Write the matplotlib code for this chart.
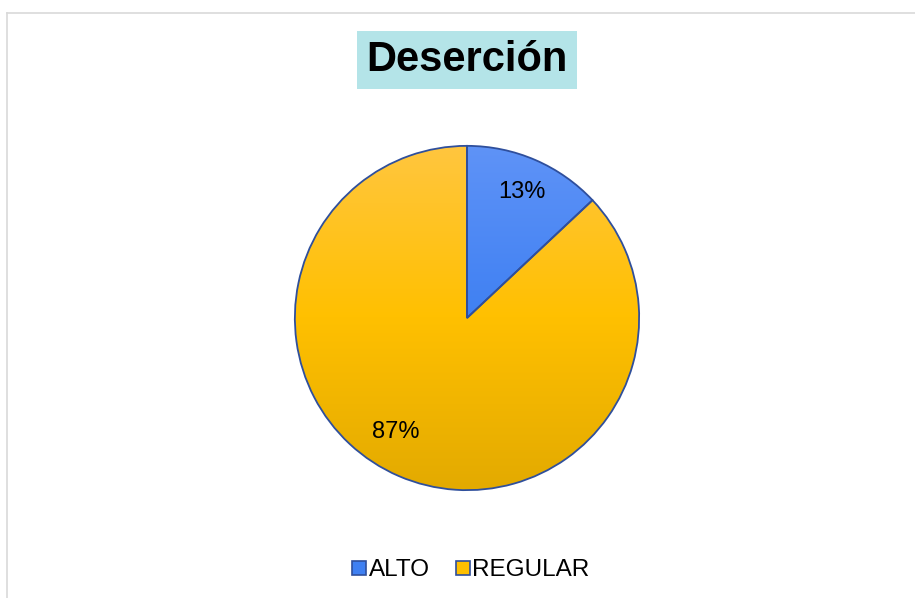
import matplotlib.pyplot as plt
import matplotlib.colors as mcolors
import numpy as np
from matplotlib.lines import Line2D

plt.rcParams['font.family'] = ['Liberation Sans', 'DejaVu Sans']

categories = ['ALTO', 'REGULAR']
values = [13, 87]
labels_pct = ['13%', '87%']
top_colors = ['#5f93f7', '#ffc63f']
mid_colors = ['#3f80f2', '#ffc000']
bottom_colors = ['#2a6be0', '#e3aa00']
legend_colors = ['#3f80f2', '#ffc000']

W, H = 915, 598
fig = plt.figure(figsize=(W / 100, H / 100), dpi=100)

# light gray chart frame
fig.add_artist(Line2D([7 / W, 7 / W], [0, 1 - 13 / H], color='#d9d9d9', lw=1.2))
fig.add_artist(Line2D([7 / W, 1], [1 - 13 / H, 1 - 13 / H], color='#d9d9d9', lw=1.2))

cx, cy, r = 467, 318, 173
ax = fig.add_axes([(cx - r) / W, (H - cy - r) / H, 2 * r / W, 2 * r / H])

wedges, _ = ax.pie(values, startangle=90, counterclock=False, radius=1,
                   colors=mid_colors,
                   wedgeprops=dict(edgecolor='#2f4f9c', linewidth=1.3))
ax.axis('off')

# vertical gradient fill clipped to each wedge
t = np.linspace(0, 1, 256)
for w, c0, c1, c2 in zip(wedges, top_colors, mid_colors, bottom_colors):
    cmap = mcolors.LinearSegmentedColormap.from_list('g', [c0, c1, c2])
    img = ax.imshow(t[:, None], cmap=cmap, extent=[-1, 1, -1, 1],
                    aspect='auto', origin='upper', zorder=w.get_zorder() - 0.1)
    img.set_clip_path(w)
    w.set_facecolor('none')
ax.set_xlim(-1.005, 1.005)
ax.set_ylim(-1.005, 1.005)

# percentage labels
theta = 90
for v, lab in zip(values, labels_pct):
    ang = np.deg2rad(theta - v * 3.6 / 2)
    d = 0.8
    if v > 50:
        ang = np.deg2rad(238)
        d = 0.78
    ax.text(d * np.cos(ang), d * np.sin(ang), lab, ha='center', va='center',
            fontsize=17, color='black')
    theta -= v * 3.6

fig.text(467 / W, 1 - 60 / H, 'Deserción', ha='center', va='center',
         fontsize=30, fontweight='bold', color='black',
         bbox=dict(boxstyle='square,pad=0.22', facecolor='#b4e4e8', edgecolor='none'))

handles = [Line2D([], [], marker='s', linestyle='none', markersize=10,
                  markerfacecolor=c, markeredgecolor='#2f4f9c', markeredgewidth=1.2)
           for c in legend_colors]
fig.legend(handles, categories, loc='center', bbox_to_anchor=(470 / W, 1 - 570 / H),
           ncol=2, frameon=False, fontsize=17.5, handlelength=0.7, handletextpad=0.05,
           columnspacing=1.0)

fig.savefig('out.png', dpi=100)
